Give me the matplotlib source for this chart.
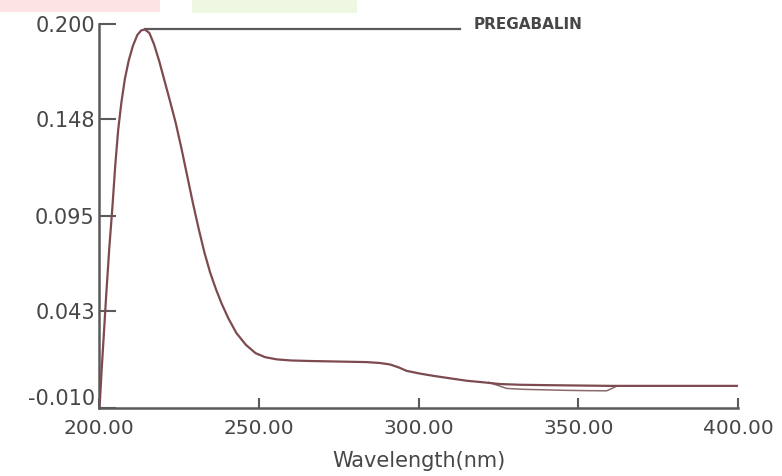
import matplotlib
matplotlib.use("Agg")
import matplotlib.pyplot as plt
from matplotlib.patches import Rectangle
from matplotlib.transforms import ScaledTranslation

# ---- data ----
wavelength = [200.0, 200.3, 200.8, 201.5, 202.3, 203.2, 204.2, 205.1, 206.0, 207.0,
              208.1, 209.3, 210.6, 212.0, 213.2, 214.4, 215.8, 217.2, 218.8, 220.5,
              222.2, 224.0, 225.8, 227.6, 229.4, 231.2, 233.0, 234.8, 236.6, 238.4,
              240.5, 243.0, 246.0, 249.0, 252.0, 255.6, 260.0, 266.0, 272.0, 278.0,
              283.8, 288.0, 291.1, 293.8, 296.3, 300.5, 304.6, 310.0, 315.1, 320.0,
              325.5, 332.0, 340.0, 350.0, 360.0, 370.0, 380.0, 390.0, 400.0]
absorbance = [-0.010, -0.006, 0.010, 0.030, 0.053, 0.077, 0.100, 0.123, 0.142, 0.157,
              0.170, 0.180, 0.188, 0.194, 0.1965, 0.197, 0.195, 0.189, 0.180, 0.169,
              0.158, 0.146, 0.132, 0.117, 0.102, 0.088, 0.075, 0.064, 0.055, 0.047,
              0.039, 0.031, 0.0245, 0.0200, 0.0178, 0.0166, 0.0160, 0.0157, 0.0155, 0.0153,
              0.0151, 0.0146, 0.0138, 0.0122, 0.0103, 0.0088, 0.0076, 0.0062, 0.0049, 0.0041,
              0.0031, 0.0027, 0.0025, 0.0023, 0.0021, 0.0021, 0.0021, 0.0021, 0.0021]

# second (overlapping) trace visible around 322-362 nm
wavelength_2 = [322.0, 327.6, 333.0, 338.0, 345.0, 352.0, 358.9, 362.0]
absorbance_2 = [0.0040, 0.0007, 0.0002, 0.0000, -0.0003, -0.0005, -0.0006, 0.0019]

peak_wavelength = 214.4
peak_value = 0.197
peak_label = "PREGABALIN"
peak_line_end = 313.0

x_ticks = [200, 250, 300, 350, 400]
x_tick_labels = ["200.00", "250.00", "300.00", "350.00", "400.00"]
y_ticks = [-0.010, 0.043, 0.095, 0.148, 0.200]
y_tick_labels = ["-0.010", "0.043", "0.095", "0.148", "0.200"]
x_label = "Wavelength(nm)"

# ---- figure ----
W, H = 782, 476
fig = plt.figure(figsize=(W / 100, H / 100), dpi=100)
fig.patch.set_facecolor("white")

# faint watermark bands at the very top of the scan
fig.patches.append(Rectangle((0, 1 - 12 / H), 160 / W, 12 / H, transform=fig.transFigure,
                             facecolor="#fde3e3", edgecolor="none", zorder=0))
fig.patches.append(Rectangle((192 / W, 1 - 13 / H), 165 / W, 13 / H, transform=fig.transFigure,
                             facecolor="#edf7e2", edgecolor="none", zorder=0))

left, right, bottom, top = 99 / W, 738 / W, 1 - 408 / H, 1 - 24 / H
ax = fig.add_axes([left, bottom, right - left, top - bottom])
ax.set_facecolor("none")

axis_col = "#5a5a5a"
text_col = "#474747"
curve_col = "#7d4a4f"

ax.plot(wavelength_2, absorbance_2, color="#8a6a6c", lw=1.1, zorder=3)
ax.plot(wavelength, absorbance, color=curve_col, lw=1.6, zorder=4,
        solid_joinstyle="round")

# peak pick line and label
ax.plot([peak_wavelength, peak_line_end], [peak_value, peak_value],
        color=axis_col, lw=1.6, zorder=3, clip_on=False)
ax.text(peak_line_end + 4.2, 0.1995, peak_label, color=text_col, fontsize=11,
        fontweight="bold", ha="left", va="center", clip_on=False)

ax.set_xlim(200, 400)
ax.set_ylim(-0.010, 0.200)

for s in ["top", "right"]:
    ax.spines[s].set_visible(False)
for s in ["left", "bottom"]:
    ax.spines[s].set_color(axis_col)
    ax.spines[s].set_linewidth(1.8)

ax.set_xticks(x_ticks)
ax.set_xticklabels(x_tick_labels)
ax.set_yticks(y_ticks)
ax.set_yticklabels(y_tick_labels)

ax.tick_params(axis="x", direction="in", length=7.5, width=1.5, color=axis_col,
               labelsize=14.5, labelcolor=text_col, pad=8)
ax.tick_params(axis="y", direction="in", length=12, width=1.5, color=axis_col,
               labelsize=15, labelcolor=text_col, pad=3)

# the bottom y label sits above its tick in the reference
lab = ax.get_yticklabels()[0]
lab.set_transform(lab.get_transform() + ScaledTranslation(0, 8 / 72, fig.dpi_scale_trans))

ax.set_xlabel(x_label, fontsize=15, color=text_col, labelpad=9)

fig.savefig("out.png", dpi=100, facecolor="white")
